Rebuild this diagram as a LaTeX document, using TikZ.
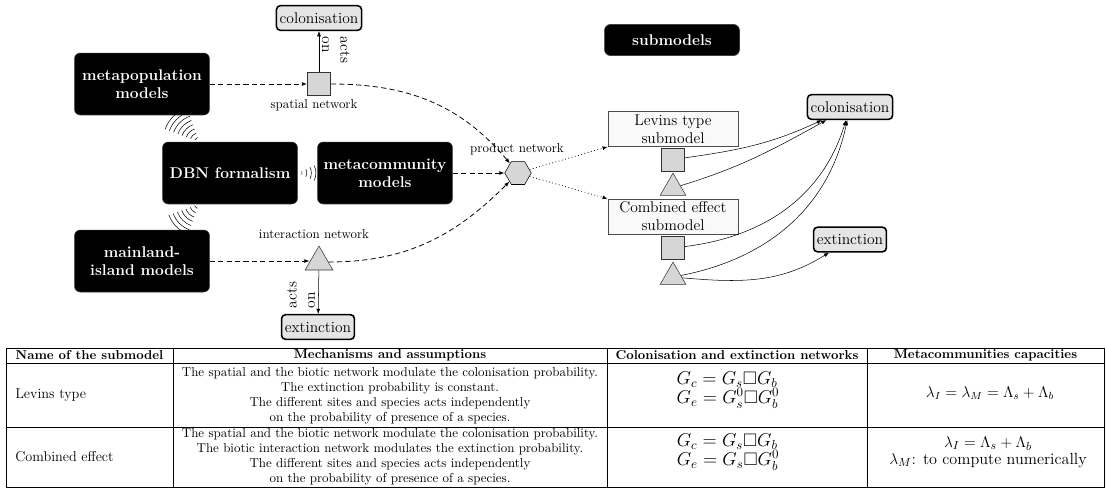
\documentclass[tikz,border=0pt]{standalone}
\usepackage{amsmath,amssymb}
\usetikzlibrary{shapes.geometric,arrows.meta,decorations.pathreplacing}
\begin{document}
\begin{tikzpicture}[x=0.7728pt,y=-0.7728pt,
  blackbox/.style={rectangle, rounded corners=4.5pt, fill=black, draw=black!80, text=white,
    font=\large\bfseries, align=center, minimum width=104.3pt, minimum height=47.9pt, inner sep=2pt},
  subbox/.style={rectangle, fill=gray!5, draw=black!70, font=\large, align=center,
    minimum width=100.5pt, minimum height=27pt, inner sep=1.5pt},
  procbox/.style={rectangle, rounded corners=3pt, fill=gray!20, draw=black, line width=1.2pt,
    font=\large, inner sep=2.5pt, minimum height=19pt},
  sqnode/.style={rectangle, fill=gray!32, draw=black!80, minimum size=18pt, inner sep=0pt},
  trinode/.style={regular polygon, regular polygon sides=3, fill=gray!32, draw=black!80,
    minimum size=23pt, inner sep=0pt},
  hexnode/.style={regular polygon, regular polygon sides=6, fill=gray!32, draw=black,
    minimum size=20.5pt, inner sep=0pt},
  dasharrow/.style={dash pattern=on 4pt off 2.5pt, semithick, -{Latex[length=4pt,width=3pt]}},
  dotarrow/.style={dotted, semithick, -{Latex[length=4pt,width=3pt]}},
  solidarrow/.style={thin, -{Latex[length=4pt,width=3pt]}},
  waves/.style={decorate, decoration={expanding waves, angle=25, segment length=3.5pt}, thin},
  tabline/.style={line width=0.6pt},
  lbl/.style={font=\normalsize, inner sep=1pt}
]
\useasboundingbox (0,0) rectangle (1106,489);

% black boxes
\node[blackbox] (metapop) at (142,84) {metapopulation\\models};
\node[blackbox] (dbn) at (230,173) {DBN formalism};
\node[blackbox] (metacom) at (385,173) {metacommunity\\models};
\node[blackbox] (mainland) at (142,261) {mainland-\\island models};
\node[blackbox, minimum height=24pt] (submodels) at (672,40) {submodels};

% left process boxes
\node[procbox] (colTop) at (319,18) {colonisation};
\node[procbox] (extBot) at (318,327) {extinction};

\node[sqnode] (sq) at (319,84) {};
\node[trinode, minimum size=24.7pt] (tri) at (319,262) {};
\node[hexnode] (hex) at (518,173) {};

\node[lbl] (spatlab) at (314,105) {spatial network};
\node[lbl] (interlab) at (314,234) {interaction network};
\node[lbl] (prodlab) at (517,149) {product network};
\node[rotate=-90, align=left, font=\large, inner sep=0pt] (actsTop) at (336,50) {acts\\on};
\node[rotate=90, align=left, font=\large, inner sep=0pt] (actsBot) at (301,295) {acts\\on};

% right side
\node[subbox] (levins) at (673,129) {Levins type\\submodel};
\node[subbox] (combined) at (673,216.5) {Combined effect\\submodel};
\node[sqnode] (sqA) at (673,159.5) {};
\node[trinode] (triA) at (673,188) {};
\node[sqnode] (sqB) at (673,248) {};
\node[trinode] (triB) at (673,277) {};
\node[procbox] (colR) at (850,107) {colonisation};
\node[procbox] (extR) at (850,239.5) {extinction};

% connectors
\draw[dasharrow] (metapop) -- (sq);
\draw[dasharrow] (mainland.east) -- (tri.west |- mainland.east);
\draw[dasharrow] (metacom) -- (hex);
\draw[dasharrow] (sq) to[out=0,in=130] (hex);
\draw[dasharrow] (tri) to[out=0,in=-135] (hex);
\draw[dotarrow] (hex) -- (levins.south west);
\draw[dotarrow] (hex) -- (combined.north west);
\draw[solidarrow] (sq) -- (colTop);
\draw[solidarrow] (tri) -- (extBot);

\draw[solidarrow] (sqA) to[out=8,in=205] (colR);
\draw[solidarrow] (triA) to[out=17,in=209] (colR);
\draw[solidarrow] (sqB) to[out=7,in=253] (colR);
\draw[solidarrow] (triB) to[out=11,in=258] (colR);
\draw[solidarrow] (triB) to[out=-5,in=212] (extR);

\draw[waves] (dbn) -- (metapop);
\draw[waves] (dbn) -- (mainland);
\draw[waves] (dbn) -- (metacom);

% table
\draw[tabline] (6,348) rectangle (1104,487);
\draw[tabline] (6,363) -- (1104,363);
\draw[tabline] (6,427) -- (1104,427);
\draw[tabline] (173,348) -- (173,487);
\draw[tabline] (607,348) -- (607,487);
\draw[tabline] (867,348) -- (867,487);

\node[font=\bfseries, inner sep=0pt] (h1) at (89.5,355.5) {Name of the submodel};
\node[font=\bfseries, inner sep=0pt] (h2) at (390,355.5) {Mechanisms and assumptions};
\node[font=\bfseries, inner sep=0pt] (h3) at (737,355.5) {Colonisation and extinction networks};
\node[font=\bfseries, inner sep=0pt] (h4) at (985.5,355.5) {Metacommunities capacities};

\node[anchor=west, font=\fontsize{11}{13}\selectfont, inner sep=0pt] (r1name) at (15,395) {Levins type};
\node[anchor=west, font=\fontsize{11}{13}\selectfont, inner sep=0pt] (r2name) at (15,457) {Combined effect};

\node[align=center, font=\fontsize{10}{11.6}\selectfont, inner sep=0pt] (r1mech) at (390,396)
  {The spatial and the biotic network modulate the colonisation probability.\\
   The extinction probability is constant.\\
   The different sites and species acts independently\\
   on the probability of presence of a species.};
\node[align=center, font=\fontsize{10}{11.6}\selectfont, inner sep=0pt] (r2mech) at (390,457)
  {The spatial and the biotic network modulate the colonisation probability.\\
   The biotic interaction network modulates the extinction probability.\\
   The different sites and species acts independently\\
   on the probability of presence of a species.};

\node[align=left, font=\fontsize{14}{12}\selectfont, inner sep=0pt] (r1net) at (728,390)
  {$G_c = G_s\square G_b$\\$G_e = G_s^0\square G_b^0$};
\node[align=left, font=\fontsize{14}{12}\selectfont, inner sep=0pt] (r2net) at (728,452)
  {$G_c = G_s\square G_b$\\$G_e = G_s\square G_b^0$};

\node[font=\large, inner sep=0pt] (r1cap) at (990,393)
  {$\lambda_I = \lambda_M = \Lambda_s + \Lambda_b$};
\node[align=center, font=\fontsize{12.5}{13}\selectfont, inner sep=0pt] (r2cap) at (988,452)
  {$\lambda_I = \Lambda_s + \Lambda_b$\\$\lambda_M$: to compute numerically};
\end{tikzpicture}
\end{document}
